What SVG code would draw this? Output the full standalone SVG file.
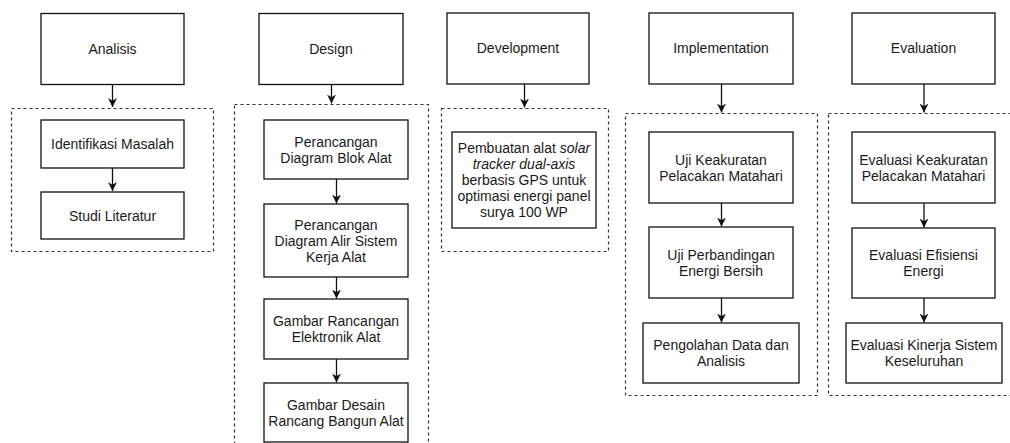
<svg xmlns="http://www.w3.org/2000/svg" width="1010" height="443" viewBox="0 0 1010 443">
<style>
.box{fill:#fff;stroke:#111;stroke-width:1.3}
.grp{fill:none;stroke:#333;stroke-width:1.2;stroke-dasharray:3 3}
.t{font-family:"Liberation Sans",Arial,sans-serif;font-size:14px;fill:#1a1a1a;text-anchor:middle}
.i{font-style:italic}
.c{stroke:#111;stroke-width:1.3;fill:none;marker-end:url(#ah)}
</style>
<defs>
<marker id="ah" viewBox="0 0 10 10" refX="10" refY="5" markerUnits="userSpaceOnUse" markerWidth="9" markerHeight="9" orient="auto">
<path d="M0,0 L10,5 L0,10 L3,5 z" fill="#111"/>
</marker>
</defs>
<rect width="1010" height="443" fill="#fff"/>

<g id="groups">
<rect class="grp" x="11.5" y="108.5" width="202" height="143"/>
<rect class="grp" x="234.5" y="104.5" width="194" height="360"/>
<rect class="grp" x="441.5" y="108.5" width="167" height="143"/>
<rect class="grp" x="625.5" y="113.5" width="192" height="282"/>
<rect class="grp" x="828.5" y="113.5" width="200" height="282"/>
</g>

<g id="connectors">
<path class="c" d="M112.5,85 V107"/>
<path class="c" d="M112.5,168 V191"/>
<path class="c" d="M331.5,85 V103.5"/>
<path class="c" d="M336.5,179 V203.5"/>
<path class="c" d="M336.5,277 V298.5"/>
<path class="c" d="M336.5,359 V382.5"/>
<path class="c" d="M524.5,84 V107.5"/>
<path class="c" d="M721.5,84 V112.5"/>
<path class="c" d="M721.5,203 V226.5"/>
<path class="c" d="M721.5,298 V322.5"/>
<path class="c" d="M924,84 V112.5"/>
<path class="c" d="M924,203 V227.5"/>
<path class="c" d="M924,298 V322.5"/>
</g>

<g id="analisis"><rect class="box" x="41" y="13.5" width="143" height="71"/><text class="t" x="112.5" y="54">Analisis</text></g>
<g id="identifikasi"><rect class="box" x="41" y="120" width="143" height="48"/><text class="t" x="112.5" y="149">Identifikasi Masalah</text></g>
<g id="studi"><rect class="box" x="41" y="192" width="143" height="47"/><text class="t" x="112.5" y="220.5">Studi Literatur</text></g>

<g id="design"><rect class="box" x="259" y="13.5" width="144" height="71"/><text class="t" x="331" y="54">Design</text></g>
<g id="d1"><rect class="box" x="264" y="120" width="144" height="59"/><text class="t" x="336" y="146.5">Perancangan</text><text class="t" x="336" y="162.5">Diagram Blok Alat</text></g>
<g id="d2"><rect class="box" x="264" y="204" width="144" height="73"/><text class="t" x="336" y="229.5">Perancangan</text><text class="t" x="336" y="245.5">Diagram Alir Sistem</text><text class="t" x="336" y="261.5">Kerja Alat</text></g>
<g id="d3"><rect class="box" x="264" y="299" width="144" height="60"/><text class="t" x="336" y="326">Gambar Rancangan</text><text class="t" x="336" y="342">Elektronik Alat</text></g>
<g id="d4"><rect class="box" x="264" y="383" width="144" height="59"/><text class="t" x="336" y="409.5">Gambar Desain</text><text class="t" x="336" y="425.5">Rancang Bangun Alat</text></g>

<g id="development"><rect class="box" x="447" y="13" width="142" height="71"/><text class="t" x="518" y="53">Development</text></g>
<g id="dev1"><rect class="box" x="452" y="132" width="144" height="96"/>
<text class="t" x="524" y="153">Pembuatan alat <tspan class="i">solar</tspan></text>
<text class="t i" x="524" y="169">tracker dual-axis</text>
<text class="t" x="524" y="185">berbasis GPS untuk</text>
<text class="t" x="524" y="201">optimasi energi panel</text>
<text class="t" x="524" y="217">surya 100 WP</text></g>

<g id="implementation"><rect class="box" x="649" y="13" width="144" height="71"/><text class="t" x="721" y="53">Implementation</text></g>
<g id="i1"><rect class="box" x="649" y="132" width="144" height="71"/><text class="t" x="721" y="164.5">Uji Keakuratan</text><text class="t" x="721" y="180.5">Pelacakan Matahari</text></g>
<g id="i2"><rect class="box" x="649" y="227" width="144" height="71"/><text class="t" x="721" y="259.5">Uji Perbandingan</text><text class="t" x="721" y="275.5">Energi Bersih</text></g>
<g id="i3"><rect class="box" x="643" y="323" width="156" height="60"/><text class="t" x="721" y="350">Pengolahan Data dan</text><text class="t" x="721" y="366">Analisis</text></g>

<g id="evaluation"><rect class="box" x="852" y="13" width="143" height="71"/><text class="t" x="923.5" y="53">Evaluation</text></g>
<g id="e1"><rect class="box" x="852" y="132" width="143" height="71"/><text class="t" x="923.5" y="164.5">Evaluasi Keakuratan</text><text class="t" x="923.5" y="180.5">Pelacakan Matahari</text></g>
<g id="e2"><rect class="box" x="852" y="228" width="143" height="70"/><text class="t" x="923.5" y="260">Evaluasi Efisiensi</text><text class="t" x="923.5" y="276">Energi</text></g>
<g id="e3"><rect class="box" x="846" y="323" width="156" height="60"/><text class="t" x="924" y="350">Evaluasi Kinerja Sistem</text><text class="t" x="924" y="366">Keseluruhan</text></g>
</svg>
